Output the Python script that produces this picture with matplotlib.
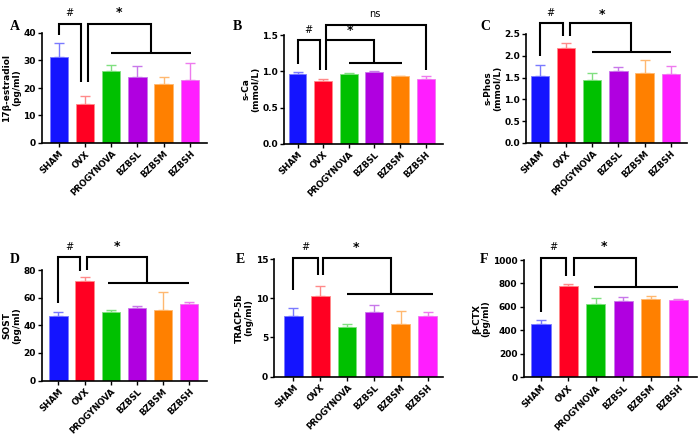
import matplotlib
matplotlib.use('Agg')
import matplotlib.pyplot as plt
import numpy as np

groups = ['SHAM', 'OVX', 'PROGYNOVA', 'BZBSL', 'BZBSM', 'BZBSH']
colors = ['#1414ff', '#ff0022', '#00c000', '#b000e0', '#ff8000', '#ff1eff']
err_colors = ['#7a7aff', '#ff8a8a', '#80e080', '#c878ea', '#ffb870', '#ee7aee']

# means and upper error (SEM)
estradiol = [31.4, 14.2, 26.0, 23.9, 21.5, 22.8]
estradiol_err = [5.0, 2.8, 2.5, 4.2, 2.6, 6.4]
sca = [0.97, 0.867, 0.963, 0.99, 0.93, 0.895]
sca_err = [0.02, 0.03, 0.01, 0.01, 0.01, 0.035]
sphos = [1.54, 2.18, 1.45, 1.64, 1.61, 1.57]
sphos_err = [0.24, 0.11, 0.15, 0.11, 0.29, 0.19]
sost = [46.5, 71.8, 49.6, 52.3, 51.3, 55.2]
sost_err = [2.9, 2.9, 1.2, 1.9, 12.8, 1.4]
tracp = [7.7, 10.25, 6.29, 8.29, 6.76, 7.7]
tracp_err = [1.05, 1.3, 0.38, 0.8, 1.57, 0.5]
ctx = [452, 781, 622, 651, 668, 659]
ctx_err = [37, 14, 57, 31, 28, 11]

panels = [
    # letter, values, errs, ylabel, ylim, yticks, axes rect, xlim, letter pos
    ('A', estradiol, estradiol_err, '17\u03b2-estradiol\n(pg/ml)', 40, [0, 10, 20, 30, 40],
     [0.060, 0.675, 0.236, 0.250], (-0.64, 5.66), (0.014, 0.94)),
    ('B', sca, sca_err, 's-Ca\n(mmol/L)', 1.5, [0.0, 0.5, 1.0, 1.5],
     [0.406, 0.673, 0.227, 0.247], (-0.52, 5.68), (0.333, 0.94)),
    ('C', sphos, sphos_err, 's-Phos\n(mmol/L)', 2.5, [0.0, 0.5, 1.0, 1.5, 2.0, 2.5],
     [0.752, 0.675, 0.229, 0.248], (-0.51, 5.61), (0.686, 0.94)),
    ('D', sost, sost_err, 'SOST\n(pg/ml)', 80, [0, 20, 40, 60, 80],
     [0.060, 0.135, 0.236, 0.251], (-0.63, 5.70), (0.014, 0.41)),
    ('E', tracp, tracp_err, 'TRACP-5b\n(ng/ml)', 15, [0, 5, 10, 15],
     [0.392, 0.144, 0.241, 0.267], (-0.71, 5.58), (0.337, 0.41)),
    ('F', ctx, ctx_err, '\u03b2-CTX\n(pg/ml)', 1000, [0, 200, 400, 600, 800, 1000],
     [0.748, 0.143, 0.248, 0.266], (-0.63, 5.69), (0.686, 0.41)),
]

# significance brackets: (x, y) polylines in data units
brackets = {
    'A': {'lines': [[(0, 39.2), (0, 43.2), (0.84, 43.2), (0.84, 22.2)],
                    [(1.12, 22.2), (1.12, 43.2), (3.5, 43.2), (3.5, 32.7)],
                    [(2.0, 32.7), (5.05, 32.7)]],
          'text': [('#', 0.42, 45.5), ('*', 2.3, 45.0)]},
    'B': {'lines': [[(0, 1.10), (0, 1.43), (0.87, 1.43), (0.87, 1.02)],
                    [(1.13, 1.02), (1.13, 1.64), (5.0, 1.64), (5.0, 1.02)],
                    [(1.13, 1.43), (3.0, 1.43), (3.0, 1.12)],
                    [(2.0, 1.12), (4.07, 1.12)]],
          'text': [('#', 0.44, 1.50), ('*', 2.05, 1.48), ('ns', 3.0, 1.72)]},
    'C': {'lines': [[(0, 1.99), (0, 2.75), (0.87, 2.75), (0.87, 2.45)],
                    [(1.15, 2.45), (1.15, 2.75), (3.5, 2.75), (3.5, 2.09)],
                    [(2.0, 2.09), (5.0, 2.09)]],
          'text': [('#', 0.42, 2.86), ('*', 2.36, 2.80)]},
    'D': {'lines': [[(0, 56.4), (0, 89.2), (0.84, 89.2), (0.84, 79.5)],
                    [(1.1, 80.0), (1.1, 89.2), (3.4, 89.2), (3.4, 70.4)],
                    [(1.9, 70.4), (5.0, 70.4)]],
          'text': [('#', 0.42, 93.5), ('*', 2.25, 92.5)]},
    'E': {'lines': [[(0, 11.05), (0, 15.1), (0.9, 15.1), (0.9, 12.96)],
                    [(1.12, 12.96), (1.12, 15.1), (3.65, 15.1), (3.65, 10.54)],
                    [(2.0, 10.54), (5.2, 10.54)]],
          'text': [('#', 0.45, 15.9), ('*', 2.35, 15.7)]},
    'F': {'lines': [[(0, 560), (0, 1014), (0.9, 1014), (0.9, 864)],
                    [(1.2, 864), (1.2, 1014), (3.46, 1014), (3.46, 773)],
                    [(1.95, 773), (5.0, 773)]],
          'text': [('#', 0.45, 1065), ('*', 2.3, 1060)]},
}

fig = plt.figure(figsize=(7, 4.4), dpi=100)
x = np.arange(len(groups))

for letter, vals, errs, ylabel, ymax, yticks, rect, xlim, lpos in panels:
    ax = fig.add_axes(rect)
    ax.bar(x, vals, width=0.7, color=colors, edgecolor=err_colors, linewidth=0.6, zorder=2)
    for i in range(len(groups)):
        ax.errorbar(x[i], vals[i], yerr=[[0], [errs[i]]], fmt='none',
                    ecolor=err_colors[i], elinewidth=1.0, capsize=3.5, capthick=1.0, zorder=1)
    ax.set_xlim(*xlim)
    ax.set_ylim(0, ymax)
    ax.set_yticks(yticks)
    if ymax in (1.5, 2.5):
        ax.set_yticklabels(['%.1f' % t for t in yticks])
    ax.set_xticks(x)
    ax.set_xticklabels(groups, rotation=45, ha='right', rotation_mode='anchor',
                       fontsize=6.2, fontweight='bold')
    for t in ax.get_yticklabels():
        t.set_fontweight('bold')
        t.set_fontsize(6.5)
    ax.tick_params(axis='both', direction='out', length=3, width=1.0, pad=1.5)
    ax.spines['top'].set_visible(False)
    ax.spines['right'].set_visible(False)
    ax.spines['left'].set_linewidth(1.2)
    ax.spines['bottom'].set_linewidth(1.2)
    ax.set_ylabel(ylabel, fontsize=6.5, fontweight='bold', labelpad=1.5, linespacing=1.1)

    for line in brackets[letter]['lines']:
        xs, ys = zip(*line)
        ax.plot(xs, ys, color='black', linewidth=1.5, clip_on=False, zorder=3,
                solid_capstyle='butt', solid_joinstyle='miter')
    for txt, tx, ty in brackets[letter]['text']:
        fs = 9 if txt == '*' else 7
        ax.text(tx, ty, txt, ha='center', va='bottom', fontsize=fs,
                fontweight='bold' if txt == '*' else 'normal', clip_on=False)

    fig.text(lpos[0], lpos[1], letter, fontsize=10, fontweight='bold',
             family='Liberation Serif', ha='left', va='center')

fig.savefig('out.png', dpi=100)
